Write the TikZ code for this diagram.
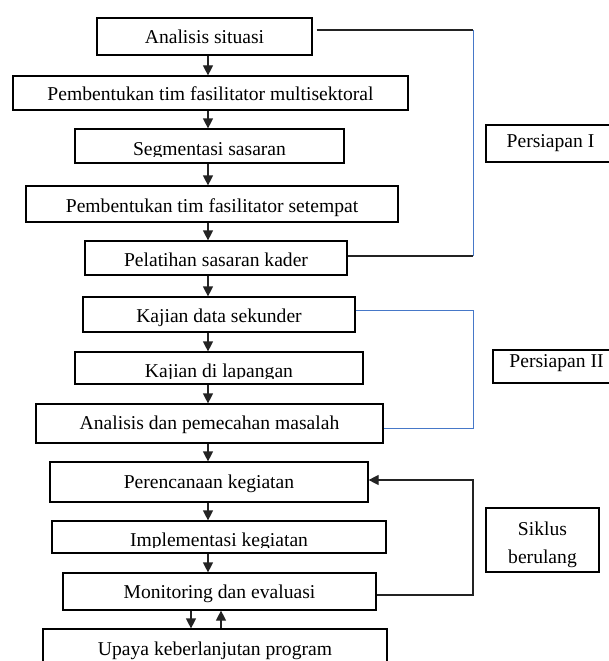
\documentclass[tikz,border=0pt]{standalone}
\usepackage{fontspec}
\setmainfont{Liberation Serif}
\usetikzlibrary{arrows.meta}
\definecolor{bluel}{RGB}{70,120,200}
\definecolor{darkl}{RGB}{35,35,35}
\begin{document}
\begin{tikzpicture}[x=1pt,y=-1pt,
  box/.style={draw=black,line width=1.2pt,inner sep=0pt},
  lbl/.style={inner sep=0pt,anchor=base,align=center,font=\fontsize{19.6}{28}\selectfont},
  arr/.style={-{Triangle[length=10pt,width=10pt]},line width=1.2pt,draw=darkl},
  conn/.style={line width=1.2pt,draw=darkl},
  blueconn/.style={line width=1pt,draw=bluel}]
\useasboundingbox (0,0) rectangle (609,661);
\clip (0,0) rectangle (609,661);
% boxes
\node[box,minimum width=215pt,minimum height=37pt] (a1) at (204.5,36.5) {};
\node[box,minimum width=395pt,minimum height=34pt] (a2) at (210.5,93) {};
\node[box,minimum width=269pt,minimum height=34pt] (a3) at (209.5,146) {};
\node[box,minimum width=372pt,minimum height=36pt] (a4) at (212,204) {};
\node[box,minimum width=262pt,minimum height=34pt] (a5) at (216,258) {};
\node[box,minimum width=272pt,minimum height=35pt] (a6) at (219,314.5) {};
\node[box,minimum width=288pt,minimum height=32pt] (a7) at (219,368) {};
\node[box,minimum width=347pt,minimum height=39pt] (a8) at (209.5,423.5) {};
\node[box,minimum width=318pt,minimum height=40pt] (a9) at (209,482) {};
\node[box,minimum width=334pt,minimum height=32pt] (a10) at (219,537) {};
\node[box,minimum width=313pt,minimum height=37pt] (a11) at (219.5,591.5) {};
\node[box,minimum width=344pt,minimum height=40pt] (a12) at (215,649) {};
\node[box,minimum width=134pt,minimum height=37pt] (p1) at (553,143.5) {};
\node[box,minimum width=127pt,minimum height=33pt] (p2) at (556.5,366.5) {};
\node[box,minimum width=113pt,minimum height=64pt] (s) at (542.5,540) {};
% texts
\node[lbl] (t1) at (204.5,44) {Analisis situasi};
\node[lbl] (t2) at (210.5,100) {Pembentukan tim fasilitator multisektoral};
\begin{scope}
\clip (a3.north west) rectangle (a3.east |- 0,156.5);
\node[lbl] (t3) at (209.5,155) {Segmentasi sasaran};
\end{scope}
\node[lbl] (t4) at (212,212) {Pembentukan tim fasilitator setempat};
\node[lbl] (t5) at (216,266) {Pelatihan sasaran kader};
\node[lbl] (t6) at (219,322) {Kajian data sekunder};
\begin{scope}
\clip (a7.north west) rectangle (a7.east |- 0,378.5);
\node[lbl] (t7) at (219,377) {Kajian di lapangan};
\end{scope}
\node[lbl] (t8) at (209.5,429) {Analisis dan pemecahan masalah};
\node[lbl] (t9) at (209,488) {Perencanaan kegiatan};
\begin{scope}
\clip (a10.north west) rectangle (a10.east |- 0,547.5);
\node[lbl] (t10) at (219,546) {Implementasi kegiatan};
\end{scope}
\node[lbl] (t11) at (219.5,598) {Monitoring dan evaluasi};
\node[lbl] (t12) at (215,655.5) {Upaya keberlanjutan program};
\node[lbl] (tp1) at (550.5,147) {Persiapan I};
\node[lbl] (tp2) at (556.5,367) {Persiapan II};
\node[lbl] (ts) at (542.5,563) {Siklus\\berulang};
% main arrows
\coordinate (ax) at (208,0);
\foreach \u/\v in {a1/a2,a2/a3,a3/a4,a4/a5,a5/a6,a6/a7,a7/a8,a8/a9,a9/a10,a10/a11}
  \draw[arr] (\u.south -| ax) -- (\v.north -| ax);
\coordinate (bx1) at (191,0);
\coordinate (bx2) at (221,0);
\draw[arr] (a11.south -| bx1) -- (a12.north -| bx1);
\draw[arr] (a12.north -| bx2) -- (a11.south -| bx2);
% Persiapan I bracket
\coordinate (p1t) at (473,30);
\coordinate (p1b) at (473,256);
\draw[conn,shorten <=4pt] (a1.east |- p1t) -- (p1t);
\draw[blueconn] (p1t) -- (p1b);
\draw[conn] (p1b) -- (a5.east |- p1b);
% Persiapan II bracket
\coordinate (p2t) at (473,310);
\coordinate (p2b) at (473,428);
\draw[blueconn] (a6.east |- p2t) -- (p2t) -- (p2b) -- (a8.east |- p2b);
% cycle
\coordinate (s1) at (473,595);
\coordinate (s2) at (473,480);
\draw[arr] (a11.east |- s1) -- (s1) -- (s2) -- (a9.east |- s2);
\end{tikzpicture}
\end{document}
